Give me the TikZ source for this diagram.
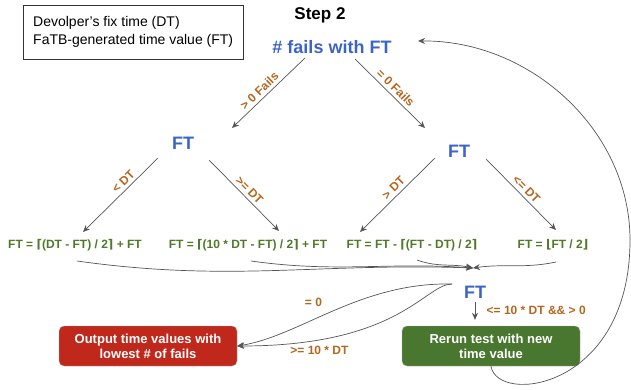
\documentclass[tikz,border=0pt]{standalone}
\usepackage{fontspec}
\setmainfont{Liberation Sans}
\newfontfamily\bracketfont{DejaVu Sans}
\usepackage{xcolor}
\usepackage{tikz}
\usetikzlibrary{arrows.meta,positioning,calc}
\definecolor{ftblue}{HTML}{3C64C8}
\definecolor{condbrown}{HTML}{B4661E}
\definecolor{formgreen}{HTML}{4F7A28}
\definecolor{boxred}{HTML}{C0281C}
\definecolor{boxgreen}{HTML}{4A7730}
\definecolor{linegray}{HTML}{555555}
\newcommand{\ceilo}{{\bracketfont ⌈}}
\newcommand{\ceilc}{{\bracketfont ⌉}}
\newcommand{\flooro}{{\bracketfont ⌊}}
\newcommand{\floorc}{{\bracketfont ⌋}}

\begin{document}
\begin{tikzpicture}[x=1pt,y=-1pt,>={Stealth[length=7pt,width=6pt]},
    value/.style={font=\bfseries\fontsize{18}{20}\selectfont,text=ftblue},
    formula/.style={font=\bfseries\fontsize{12}{14}\selectfont,text=formgreen},
    cond/.style={font=\bfseries\fontsize{12}{14}\selectfont,text=condbrown},
    edge/.style={->,draw=linegray,line width=0.7pt},
    result/.style={rounded corners=5pt,draw=gray!70,minimum width=178pt,minimum height=40pt,
        align=center,text=white,font=\bfseries\fontsize{13}{15}\selectfont}]
    \useasboundingbox (0,0) rectangle (631,390);

    % Legend and title
    \node[draw=black!80,anchor=west,align=left,inner xsep=10pt,minimum height=54pt,
        font=\fontsize{14}{18}\selectfont] (legend) at (23,32)
        {Devolper's fix time (DT)\\FaTB-generated time value (FT)};
    \node[font=\bfseries\fontsize{17}{20}\selectfont] (step) at (320,15) {Step 2};
    \node[value] (fails) at (332,47) {\# fails with FT};

    % First split
    \node[value] (ftL) at (183,143) {FT};
    \node[value] (ftR) at (459,151) {FT};
    \draw[edge] ($(fails)+(-27,11)$) -- node[cond,sloped,above,pos=0.55] {> 0 Fails} ($(ftL)+(49,-15)$);
    \draw[edge] ($(fails)+(23,12)$) -- node[cond,sloped,above,pos=0.5] {= 0 Fails} ($(ftR)+(-34,-23)$);

    % New time values
    \node[formula] (fA) at (75,245) {FT = \ceilo(DT - FT) / 2\ceilc{} + FT};
    \node[formula] (fB) at (248,245) {FT = \ceilo(10 * DT - FT) / 2\ceilc{} + FT};
    \node[formula] (fC) at (412,245) {FT = FT - \ceilo(FT - DT) / 2\ceilc};
    \node[formula] (fD) at (553,245) {FT = \flooro FT / 2\floorc};
    \draw[edge] ($(ftL)+(-25,15)$) -- node[cond,sloped,above,pos=0.39] {< DT} ($(fA)+(8,-13)$);
    \draw[edge] ($(ftL)+(26,17)$) -- node[cond,sloped,above,pos=0.5] {>= DT} ($(fB)+(31,-14)$);
    \draw[edge] ($(ftR)+(-24,7)$) -- node[cond,sloped,above,pos=0.48] {> DT} ($(fC)+(-52,-13)$);
    \draw[edge] ($(ftR)+(27,8)$) -- node[cond,sloped,above,pos=0.5] {<= DT} ($(fD)+(3,-15)$);

    % Merge into the next check
    \coordinate (merge) at (473,268);
    \draw[edge] ($(fA)+(2,16)$) to[out=-8,in=178] (merge);
    \draw[edge] ($(fB)+(3,16)$) to[out=-8,in=176] (merge);
    \draw[edge] ($(fC)+(5,15)$) to[out=-20,in=168] (merge);
    \draw[edge] ($(fD)+(3,17)$) to[out=192,in=8] (merge);

    % Outcomes
    \node[value] (ftB) at (475,292) {FT};
    \node[result,fill=boxred] (output) at (148,346) {Output time values with\\lowest \# of fails};
    \node[result,fill=boxgreen] (rerun) at (491,346) {Rerun test with new\\time value};
    \draw[edge] (ftB) -- node[cond,right=8pt] {<= 10 * DT \&\& > 0} ($(ftB |- rerun.north)+(0,-6)$);
    \draw[edge] ($(ftB)+(-23,-8)$) .. controls (360,282) and (300,336) .. node[cond,pos=0.6,above=9pt] {= 0} (output.east);
    \draw[edge] ($(ftB)+(-23,-8)$) .. controls (425,284) and (400,346) .. node[cond,pos=0.8,below=3pt] {>= 10 * DT} (output.east);

    % Loop back
    \draw[edge] (rerun.south) .. controls (497,405) and (630,390) .. (630,240)
        .. controls (630,130) and (530,40) .. ($(fails)+(86,-6)$);
\end{tikzpicture}
\end{document}
